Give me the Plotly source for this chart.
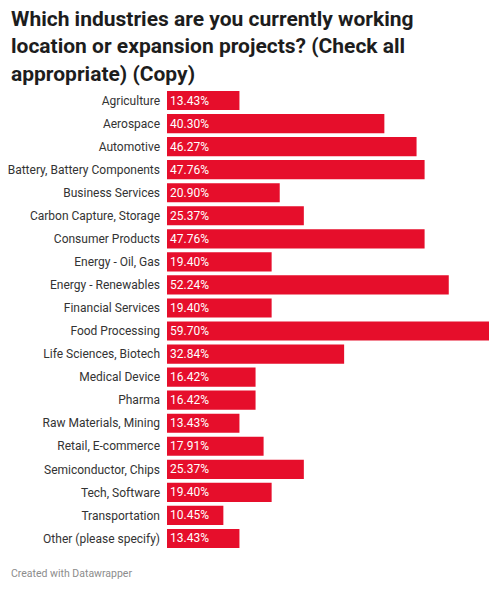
import plotly.graph_objects as go

categories = [
    "Agriculture", "Aerospace", "Automotive", "Battery, Battery Components",
    "Business Services", "Carbon Capture, Storage", "Consumer Products",
    "Energy - Oil, Gas", "Energy - Renewables", "Financial Services",
    "Food Processing", "Life Sciences, Biotech", "Medical Device", "Pharma",
    "Raw Materials, Mining", "Retail, E-commerce", "Semiconductor, Chips",
    "Tech, Software", "Transportation", "Other (please specify)",
]
values = [
    13.43, 40.30, 46.27, 47.76, 20.90, 25.37, 47.76, 19.40, 52.24, 19.40,
    59.70, 32.84, 16.42, 16.42, 13.43, 17.91, 25.37, 19.40, 10.45, 13.43,
]

fig = go.Figure()

fig.add_trace(go.Bar(
    x=values,
    y=categories,
    orientation="h",
    marker=dict(color="#e60e2b", line=dict(width=0)),
    text=[f"{v:.2f}%" for v in values],
    textposition="inside",
    insidetextanchor="start",
    constraintext="none",
    textfont=dict(family="Roboto", size=12, color="white"),
    hoverinfo="skip",
))

# title as annotation so the three lines sit from the top edge
fig.add_annotation(
    text="<b>Which industries are you currently working<br>location or expansion projects? (Check all<br>appropriate) (Copy)</b>",
    xref="paper", yref="paper",
    x=0, y=1, xshift=-158, yshift=84,
    xanchor="left", yanchor="top", align="left",
    showarrow=False,
    font=dict(family="Roboto", size=21, color="#1d1d1d"),
)

fig.add_annotation(
    text="Created with Datawrapper",
    xref="paper", yref="paper",
    x=0, y=0, xshift=-158, yshift=-23,
    xanchor="left", yanchor="middle",
    showarrow=False,
    font=dict(family="Roboto", size=10.5, color="#8c8c8c"),
)

fig.update_layout(
    width=500, height=590,
    margin=dict(l=167, r=11, t=89, b=40),
    paper_bgcolor="white",
    plot_bgcolor="white",
    showlegend=False,
    bargap=0.17,
    xaxis=dict(range=[0, 59.7], visible=False, fixedrange=True),
    yaxis=dict(
        autorange="reversed", automargin=False,
        showgrid=False, zeroline=False, showline=False,
        ticks="", ticklabelstandoff=6,
        tickfont=dict(family="Roboto", size=12, color="#333333"),
        fixedrange=True,
    ),
)

fig.write_html("out.html", config={"displayModeBar": False},
               post_script="document.body.style.margin='0';")
